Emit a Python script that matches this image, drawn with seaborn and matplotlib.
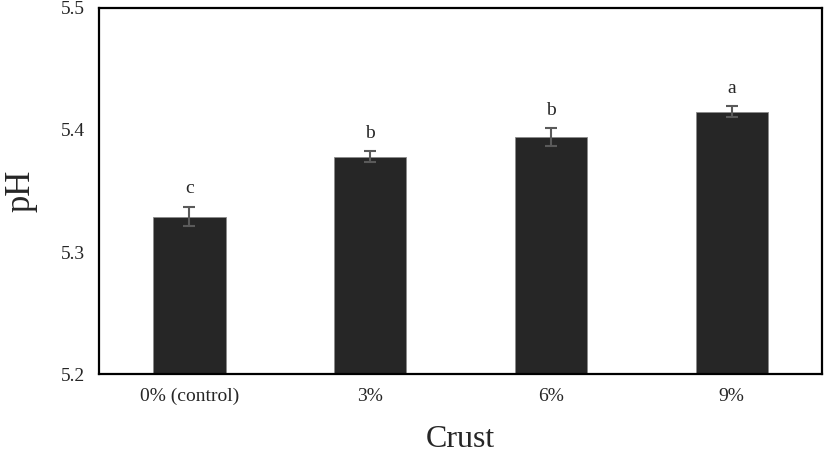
import numpy as np
import pandas as pd
import seaborn as sns
import matplotlib.pyplot as plt

crust = ["0% (control)", "3%", "6%", "9%"]
ph_mean = [5.329, 5.378, 5.394, 5.415]
ph_err = [0.008, 0.0045, 0.0074, 0.0044]
letters = ["c", "b", "b", "a"]

df = pd.DataFrame({"Crust": crust, "pH": ph_mean})

sns.set_style("white")
plt.rcParams['font.family'] = ['Liberation Serif', 'DejaVu Serif']

fig = plt.figure(figsize=(8.27, 4.54), dpi=100)
ax = fig.add_axes([0.1197, 0.1762, 0.8743, 0.8062])

sns.barplot(data=df, x="Crust", y="pH", color="#262626", width=0.4,
            errorbar=None, edgecolor="#8a8a8a", linewidth=0.6, ax=ax)
ax.errorbar(np.arange(len(crust)), ph_mean, yerr=ph_err, fmt="none",
            ecolor="#5a5a5a", elinewidth=1.5, capsize=4, capthick=1.5)

for i, (m, e, l) in enumerate(zip(ph_mean, ph_err, letters)):
    ax.text(i, m + e + 0.008, l, ha="center", va="bottom", fontsize=14)

ax.set_xlim(-0.5, len(crust) - 0.5)
ax.set_ylim(5.2, 5.5)
ax.set_yticks([5.2, 5.3, 5.4, 5.5])
ax.set_yticklabels(["5.2", "5.3", "5.4", "5.5"])
ax.tick_params(axis="both", length=0, labelsize=14, pad=10)
ax.set_xlabel("Crust", fontsize=23, labelpad=14)
ax.set_ylabel("pH", fontsize=25, labelpad=17)
for s in ax.spines.values():
    s.set_visible(True)
    s.set_color("black")
    s.set_linewidth(1.6)

fig.savefig("out.png", dpi=100)
